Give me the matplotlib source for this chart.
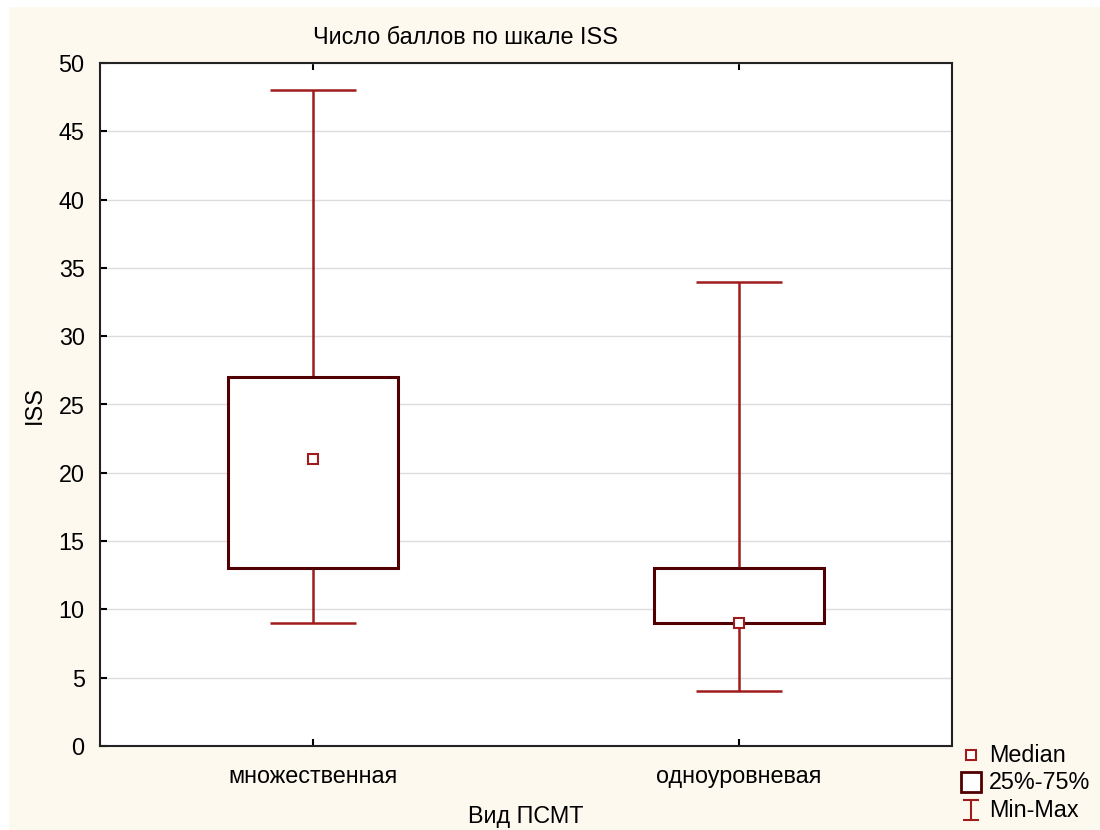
import matplotlib.pyplot as plt
import numpy as np
from matplotlib.lines import Line2D
from matplotlib.path import Path
from matplotlib.patches import Rectangle

plt.rcParams['font.family'] = ['Liberation Sans', 'DejaVu Sans']

groups = ['множественная', 'одноуровневая']
mins = [9, 4]
q1 = [13, 9]
medians = [21, 9]
q3 = [27, 13]
maxs = [48, 34]

legend_labels = ['Median', '25%-75%', 'Min-Max']

cream = '#fef9ef'
whisk = '#a01c1c'
boxc = '#500000'
fs = 16.8
W, H = 1100, 830

fig = plt.figure(figsize=(11, 8.3), dpi=100, facecolor=cream)
fig.patches.append(Rectangle((0, 0), 8/W, 1, transform=fig.transFigure, color='white', zorder=-5))
fig.patches.append(Rectangle((0, 1 - 6/H), 1, 6/H, transform=fig.transFigure, color='white', zorder=-5))

ax = fig.add_axes([100/W, 1 - 746/H, 852/W, 683/H])
ax.set_facecolor('white')
pos = np.arange(1, len(groups) + 1)

ax.vlines(pos, q3, maxs, color=whisk, lw=1.8, zorder=2)
ax.vlines(pos, mins, q1, color=whisk, lw=1.8, zorder=2)
ax.hlines(maxs, pos - 0.1, pos + 0.1, color=whisk, lw=1.8, zorder=2)
ax.hlines(mins, pos - 0.1, pos + 0.1, color=whisk, lw=1.8, zorder=2)
ax.bar(pos, np.array(q3) - np.array(q1), bottom=q1, width=0.4,
       facecolor='white', edgecolor=boxc, lw=2.2, zorder=3)
ax.plot(pos, medians, ls='none', marker='s', ms=7.5, mfc='white', mec=whisk, mew=1.5, zorder=4)

ax.set_xlim(0.5, 2.5)
ax.set_ylim(0, 50)
ax.set_yticks(np.arange(0, 51, 5))
ax.set_xticks(pos)
ax.set_xticklabels(groups)
ax.yaxis.grid(True, color='#dcdcdc', lw=1)
ax.set_axisbelow(True)
ax.tick_params(direction='in', length=5, width=1.5, labelsize=fs, top=True, right=False)
ax.tick_params(axis='y', pad=11)
ax.tick_params(axis='x', pad=14)
for s in ax.spines.values():
    s.set_linewidth(1.5)
    s.set_color('#222222')

ax.set_ylabel('ISS', fontsize=fs, labelpad=9)
ax.set_xlabel('Вид ПСМТ', fontsize=fs, labelpad=12)
fig.text(313/W, 1 - 38/H, 'Число баллов по шкале ISS', fontsize=fs, ha='left', va='center')

# legend drawn by hand, laid out like the original
ibeam = Path([(-0.85, 1), (0.85, 1), (0, 1), (0, -1), (-0.85, -1), (0.85, -1)],
             [Path.MOVETO, Path.LINETO, Path.MOVETO, Path.LINETO, Path.MOVETO, Path.LINETO])
styles = [
    dict(marker='s', ms=7.5, mfc='white', mec=whisk, mew=1.5),
    dict(marker='s', ms=15, mfc='white', mec=boxc, mew=2),
    dict(marker=ibeam, ms=14, mec=whisk, mew=1.5),
]
rows_y = [755, 782, 810]
for lab, st, yy in zip(legend_labels, styles, rows_y):
    fig.add_artist(Line2D([971/W], [1 - yy/H], ls='none', transform=fig.transFigure, **st))
    fig.text(989/W, 1 - yy/H, lab, fontsize=fs, ha='left', va='center')

fig.savefig('out.png', facecolor=cream)
